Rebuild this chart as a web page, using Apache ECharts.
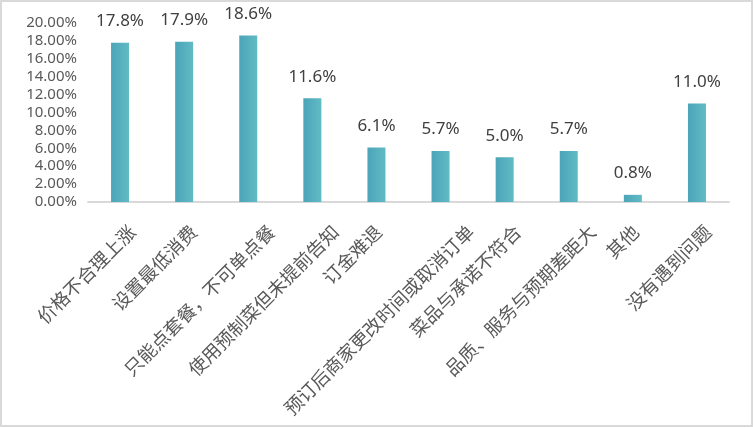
<!DOCTYPE html>
<html>
<head>
<meta charset="utf-8">
<script src="https://cdn.jsdelivr.net/npm/echarts@6/dist/echarts.min.js"></script>
<style>
  html, body { margin: 0; padding: 0; background: #fff; }
  #main { width: 753px; height: 427px; box-sizing: border-box; border: 2px solid #d9d9d9; }
</style>
</head>
<body>
<div id="main"></div>
<script>
const categories = ['价格不合理上涨', '设置最低消费', '只能点套餐，不可单点餐', '使用预制菜但未提前告知', '订金难退',
    '预订后商家更改时间或取消订单', '菜品与承诺不符合', '品质、服务与预期差距大', '其他', '没有遇到问题'];
const shares = [0.178, 0.179, 0.186, 0.116, 0.061, 0.057, 0.050, 0.057, 0.008, 0.110];

// how far (px) each rotated label's end sits right of its category centre, as in the original
const labelNudge = [15.5, 13, 26.5, 26.5, 5.5, 33.5, 16.5, 27, 6, 14.5];

const chart = echarts.init(document.getElementById('main'));

// a horizontal nudge of a 45deg label = equal parts perpendicular (padding top) and along-text (padding right)
const K = 48;
const labelRich = {};
labelNudge.forEach(function (n, i) {
    const d = n * Math.SQRT2;
    labelRich['c' + i] = {
        padding: [(K + d) / 2 - 8.5, (K - d) / 2 + 5.7, 0, 0],
        color: '#595959',
        fontSize: 18.5,
        fontFamily: 'Noto Sans CJK SC'
    };
});

let option = {
    animation: false,
    grid: {
        left: 86,
        right: 22,
        top: 21,
        bottom: 223
    },
    xAxis: {
        type: 'category',
        data: categories,
        axisLine: { lineStyle: { color: '#d9d9d9', width: 2 } },
        axisTick: { show: false },
        axisLabel: {
            interval: 0,
            rotate: 45,
            margin: -12,
            align: 'right',
            verticalAlign: 'top',
            color: '#595959',
            fontSize: 18.5,
            fontFamily: 'Noto Sans CJK SC',
            formatter: function (v, i) { return '{c' + i + '|' + v + '}'; },
            rich: labelRich
        }
    },
    yAxis: {
        type: 'value',
        min: 0,
        max: 0.2,
        interval: 0.02,
        splitLine: { show: false },
        axisLine: { show: false },
        axisTick: { show: false },
        axisLabel: {
            margin: 11,
            color: '#595959',
            fontSize: 15,
            fontFamily: 'Noto Sans',
            formatter: function (v) { return (v * 100).toFixed(2) + '%'; }
        }
    },
    series: [{
        type: 'bar',
        data: shares,
        barWidth: 18,
        itemStyle: {
            color: new echarts.graphic.LinearGradient(0, 0, 1, 0, [
                { offset: 0, color: '#4ca4b8' },
                { offset: 1, color: '#60bbc5' }
            ])
        },
        label: {
            show: true,
            position: 'top',
            distance: 13,
            color: '#404040',
            fontSize: 17,
            fontFamily: 'Noto Sans',
            formatter: function (p) { return (p.value * 100).toFixed(1) + '%'; }
        }
    }]
};

chart.setOption(option);
</script>
</body>
</html>
